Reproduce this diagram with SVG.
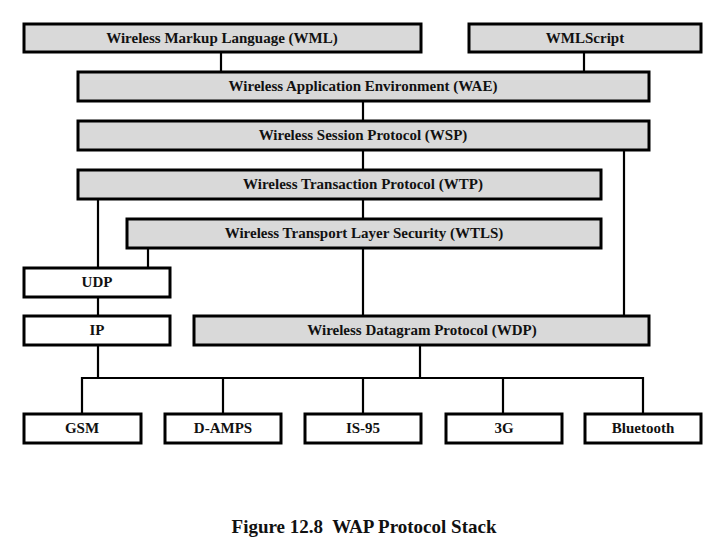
<svg xmlns="http://www.w3.org/2000/svg" width="720" height="540" viewBox="0 0 720 540">
<style>
.g rect{fill:#d9d9d9;stroke:#000;stroke-width:3}
.w rect{fill:#fff;stroke:#000;stroke-width:3}
text{font-family:"Liberation Serif","Times New Roman",serif;font-weight:bold;font-size:15px;text-anchor:middle;fill:#111}
#connectors line{stroke:#000;stroke-width:2.2;fill:none}
#connectors polyline{stroke:#000;stroke-width:2.2;fill:none}
</style>
<rect width="720" height="540" fill="#fff"/>
<g id="connectors">
<line x1="221" y1="52" x2="221" y2="71"/>
<line x1="584" y1="52" x2="584" y2="71"/>
<line x1="363" y1="101" x2="363" y2="121"/>
<line x1="363" y1="150" x2="363" y2="169"/>
<line x1="363" y1="199" x2="363" y2="218"/>
<line x1="363" y1="248" x2="363" y2="316"/>
<line x1="624" y1="150" x2="624" y2="316"/>
<line x1="98" y1="199" x2="98" y2="267"/>
<line x1="148" y1="248" x2="148" y2="267"/>
<line x1="98" y1="297" x2="98" y2="316"/>
<line x1="98" y1="345" x2="98" y2="378"/>
<line x1="420" y1="345" x2="420" y2="378"/>
<polyline points="82,413 82,378 643,378 643,413"/>
<line x1="223" y1="378" x2="223" y2="413"/>
<line x1="363" y1="378" x2="363" y2="413"/>
<line x1="503" y1="378" x2="503" y2="413"/>
</g>
<g id="wml" class="g"><rect x="24" y="24" width="397" height="28"/><text x="222" y="43">Wireless Markup Language (WML)</text></g>
<g id="wmlscript" class="g"><rect x="469" y="24" width="232" height="28"/><text x="585" y="43">WMLScript</text></g>
<g id="wae" class="g"><rect x="78" y="72" width="571" height="29"/><text x="363" y="91">Wireless Application Environment (WAE)</text></g>
<g id="wsp" class="g"><rect x="78" y="121" width="571" height="29"/><text x="363" y="140">Wireless Session Protocol (WSP)</text></g>
<g id="wtp" class="g"><rect x="78" y="170" width="523" height="29"/><text x="363" y="189">Wireless Transaction Protocol (WTP)</text></g>
<g id="wtls" class="g"><rect x="127" y="219" width="474" height="29"/><text x="364" y="238">Wireless Transport Layer Security (WTLS)</text></g>
<g id="udp" class="w"><rect x="24" y="268" width="146" height="29"/><text x="97" y="287">UDP</text></g>
<g id="ip" class="w"><rect x="24" y="316" width="146" height="29"/><text x="97" y="335">IP</text></g>
<g id="wdp" class="g"><rect x="194" y="316" width="455" height="29"/><text x="422" y="335">Wireless Datagram Protocol (WDP)</text></g>
<g id="gsm" class="w"><rect x="24" y="414" width="117" height="29"/><text x="82" y="433">GSM</text></g>
<g id="damps" class="w"><rect x="165" y="414" width="116" height="29"/><text x="223" y="433">D-AMPS</text></g>
<g id="is95" class="w"><rect x="305" y="414" width="116" height="29"/><text x="363" y="433">IS-95</text></g>
<g id="g3" class="w"><rect x="446" y="414" width="116" height="29"/><text x="504" y="433">3G</text></g>
<g id="bluetooth" class="w"><rect x="585" y="414" width="116" height="29"/><text x="643" y="433">Bluetooth</text></g>
<text x="364" y="533" style="font-size:19px" xml:space="preserve">Figure 12.8  WAP Protocol Stack</text>
</svg>
